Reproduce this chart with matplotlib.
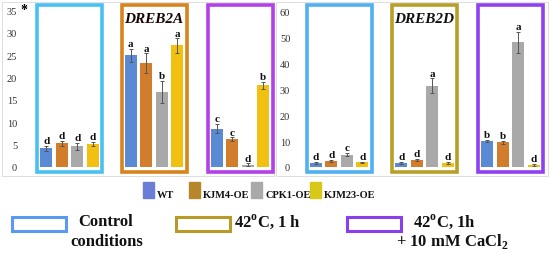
import matplotlib
matplotlib.use('Agg')
import matplotlib.pyplot as plt
from matplotlib.patches import Rectangle
from matplotlib.transforms import Affine2D

plt.rcParams['font.family'] = 'Liberation Serif'
plt.rcParams['mathtext.fontset'] = 'custom'
plt.rcParams['mathtext.rm'] = 'Liberation Serif:bold'
plt.rcParams['mathtext.bf'] = 'Liberation Serif:bold'

# data
genotypes = ['WT', 'KJM4-OE', 'CPK1-OE', 'KJM23-OE']
bar_colors = ['#5b8ad4', '#d27d2c', '#a9a9a9', '#f2c010']
legend_colors = ['#6a7ed8', '#b8862a', '#a9a9a9', '#d8c818']

dreb2a_vals = [[4.2, 5.3, 4.6, 5.2], [25.0, 23.2, 16.8, 27.2], [8.6, 6.2, 0.5, 18.3]]
dreb2a_err = [[0.6, 0.5, 0.8, 0.4], [1.5, 2.2, 2.4, 1.6], [1.0, 0.4, 0.3, 0.8]]
dreb2a_let = [['d', 'd', 'd', 'd'], ['a', 'a', 'b', 'a'], ['c', 'c', 'd', 'b']]

dreb2d_vals = [[1.6, 2.4, 4.8, 1.8], [1.6, 2.8, 31.5, 1.6], [10.2, 9.5, 48.3, 0.8]]
dreb2d_err = [[0.3, 0.4, 0.6, 0.3], [0.3, 0.3, 2.8, 0.3], [0.4, 0.6, 4.0, 0.3]]
dreb2d_let = [['d', 'd', 'c', 'd'], ['d', 'd', 'a', 'd'], ['b', 'b', 'a', 'd']]

W, H = 550, 255
fig = plt.figure(figsize=(5.5, 2.55), dpi=100)
pix = Affine2D().scale(1 / W, -1 / H).translate(0, 1) + fig.transFigure


def px_axes(x0, x1, y_top, y_bot):
    return fig.add_axes([x0 / W, 1 - y_bot / H, (x1 - x0) / W, (y_bot - y_top) / H])


def panel(x0, x1, ymax, y0px, ymaxpx, vals, errs, lets, centers, box_cols, yticks, title, title_col):
    ax = px_axes(x0, x1, 4, 177)
    scale = (y0px - ymaxpx) / ymax
    ax.set_ylim(-(177 - y0px) / scale, ymax + (ymaxpx - 4) / scale)
    ax.set_xlim(x0, x1)
    for s in ax.spines.values():
        s.set_visible(False)
    ax.set_xticks([])
    ax.set_yticks(yticks)
    ax.tick_params(axis='y', length=0, pad=2, labelsize=7.5, labelcolor='#333333')
    for g, c in enumerate(centers):
        for i in range(4):
            x = c + (i - 1.5) * 15.5
            ax.bar(x, vals[g][i], width=12, color=bar_colors[i], zorder=2)
            ax.errorbar(x, vals[g][i], yerr=errs[g][i], ecolor='#555555', elinewidth=0.7,
                        capsize=1.5, capthick=0.7, fmt='none', zorder=3)
            ax.annotate(lets[g][i], (x, vals[g][i] + errs[g][i]), xytext=(0, 0.5),
                        textcoords='offset points', ha='center', va='bottom',
                        fontsize=8, fontweight='bold', color='#111111')
        bx0 = c - 32.5
        fig.patches.append(Rectangle((bx0, 6), 65, 167, fill=False, lw=2.6,
                                     edgecolor=box_cols[g], transform=pix, zorder=5))
    fig.text(centers[1] / W, 1 - 20 / H, title, ha='center', va='center', fontsize=11,
             fontweight='bold', style='italic', color=title_col)
    return ax


# panel frames
fig.patches.append(Rectangle((2, 3), 272, 174, fill=False, lw=0.6, edgecolor='#d8d8d8', transform=pix))
fig.patches.append(Rectangle((276, 3), 272, 174, fill=False, lw=0.6, edgecolor='#d8d8d8', transform=pix))

panel(20, 275, 35, 168, 11.5, dreb2a_vals, dreb2a_err, dreb2a_let, [69.5, 154, 240],
      ['#48c0f2', '#d8841c', '#b440e8'], range(0, 36, 5), 'DREB2A', '#1a0505')
panel(293, 548, 60, 168, 13, dreb2d_vals, dreb2d_err, dreb2d_let, [339, 424.5, 510.5],
      ['#50b0f0', '#b8a028', '#9040f0'], range(0, 61, 10), 'DREB2D', '#111111')

fig.text(24 / W, 1 - 10 / H, '*', fontsize=10, fontweight='bold', ha='center', va='center')

# genotype legend
leg_x = [143, 189, 251, 310]
for i, g in enumerate(genotypes):
    fig.patches.append(Rectangle((leg_x[i], 183), 11, 16, color=legend_colors[i], transform=pix))
    fig.text((leg_x[i] + 14) / W, 1 - 198 / H, g, fontsize=7.5, fontweight='bold',
             ha='left', va='baseline', color='#111111')

# treatment legend
treat_x = [12, 176, 347]
treat_cols = ['#5a9af0', '#b89a28', '#8a40e8']
for x, c in zip(treat_x, treat_cols):
    fig.patches.append(Rectangle((x, 218), 54, 14, fill=False, lw=2.2, edgecolor=c, transform=pix))

tkw = dict(fontsize=12, fontweight='bold', va='baseline', color='#111111')
fig.text(106 / W, 1 - 226 / H, 'Control', ha='center', **tkw)
fig.text(107 / W, 1 - 246 / H, 'conditions', ha='center', **tkw)
fig.text(234 / W, 1 - 226 / H, r'42$^{\mathbf{o}}$C, 1 h', ha='left', **tkw)
fig.text(413 / W, 1 - 226 / H, r'42$^{\mathbf{o}}$C, 1h', ha='left', **tkw)
fig.text(396 / W, 1 - 246 / H, r'+ 10 mM CaCl$_{\mathbf{2}}$', ha='left', **tkw)

fig.savefig('out.png', dpi=100)
